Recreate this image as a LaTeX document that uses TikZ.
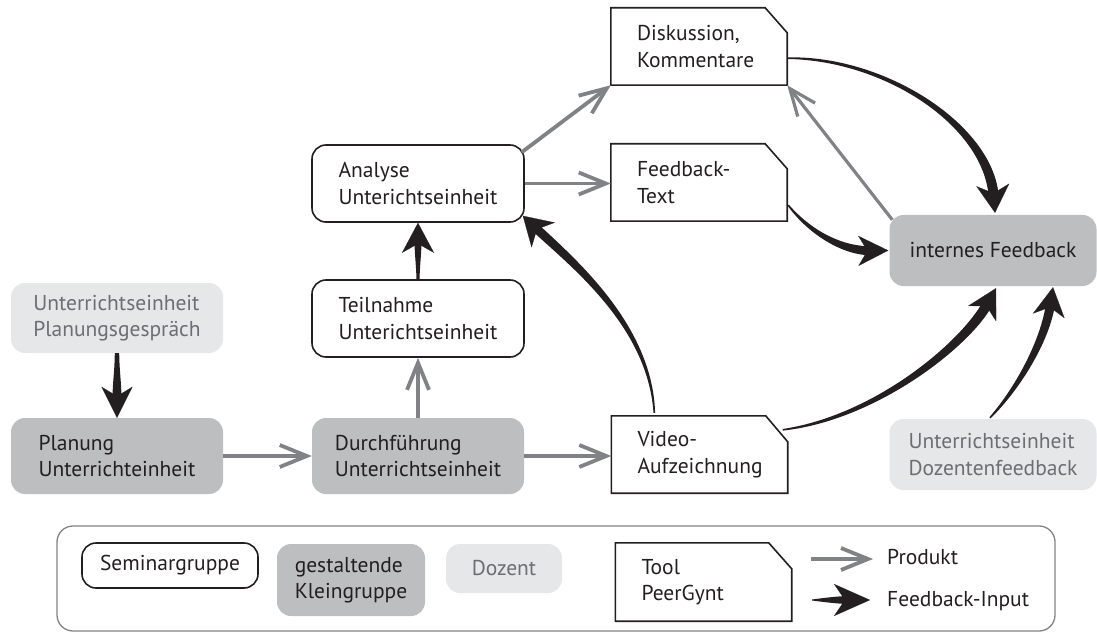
\documentclass[tikz,border=0pt]{standalone}
\usepackage{fontspec}
\setmainfont{PT Sans}
\usetikzlibrary{arrows.meta,calc}

\definecolor{groupfill}{HTML}{BCBEC0}
\definecolor{tutorfill}{HTML}{E6E7E8}
\definecolor{tutortext}{HTML}{6D6E71}
\definecolor{productgray}{HTML}{808285}
\definecolor{ink}{HTML}{231F20}

\tikzset{
  lbl/.style={font=\fontsize{21.5}{26.5}\selectfont, text=ink},
  roundbox/.style={lbl, rounded corners=14pt, minimum width=212pt, minimum height=77pt,
                   align=left, inner sep=0pt},
  seminarbox/.style={roundbox, draw=ink, line width=1.6pt, fill=white},
  groupbox/.style={roundbox, fill=groupfill},
  tutorbox/.style={roundbox, fill=tutorfill, text=tutortext},
  toolbox/.style={lbl, minimum height=77pt, text width=124pt, inner xsep=26pt,
                  inner ysep=0pt, align=left},
  product/.style={draw=productgray, line width=3.8pt,
                  -{Straight Barb[length=27pt,width=22pt]}},
}

% outline of a document-like box with a clipped upper right corner
\newcommand\toolframe[3]{% node, cut width, cut height
  \draw[ink, line width=1.6pt, line join=miter]
    (#1.south west) -- (#1.north west) -- ($(#1.north east)+(-#2,0)$)
    -- ($(#1.north east)+(0,#3)$) -- (#1.south east) -- cycle;}

% tapered black arrow: start, control 1, control 2, tip,
% half width at start, half width at head, head length, head width
\newcommand\feedbackarrow[8]{%
  \coordinate (fbS) at (#1);
  \coordinate (fbP) at (#2);
  \coordinate (fbQ) at (#3);
  \coordinate (fbT) at (#4);
  \pgfmathsetlengthmacro\fbback{0.6*#7}%
  \pgfmathsetlengthmacro\fbinset{0.3*#7}%
  \pgfmathsetlengthmacro\fbmid{0.55*#6}%
  \coordinate (fbE) at ($(fbT)!\fbback!(fbQ)$);
  \fill[ink] ($(fbS)!#5!-90:(fbP)$) .. controls ($(fbP)!\fbmid!90:(fbS)$) and ($(fbQ)!#6!-90:(fbE)$)
      .. ($(fbE)!#6!90:(fbQ)$) -- ($(fbE)!#6!-90:(fbQ)$)
      .. controls ($(fbQ)!#6!90:(fbE)$) and ($(fbP)!\fbmid!-90:(fbS)$) .. ($(fbS)!#5!90:(fbP)$) -- cycle;
  \draw[ink, line width=0.2pt, -{Stealth[length=#7pt, width=#8pt, inset=\fbinset]}]
      ($(fbT)!2pt!(fbQ)$) -- (fbT);
}

\begin{document}
\begin{tikzpicture}[x=1pt, y=-1pt]
\useasboundingbox (0,0) rectangle (1097,636);

% --- main flow ---
\node[tutorbox, minimum height=70pt] (talk) at (117,318) {Unterrichtseinheit\\Planungsgespräch};
\node[groupbox, minimum height=76pt] (plan) at (117,456) {Planung\\Unterrichteinheit};
\node[groupbox, minimum height=76pt] (run) at (418,456) {Durchführung\\Unterrichtseinheit};
\node[seminarbox] (attend) at (418,318.5) {Teilnahme\\Unterichtseinheit};
\node[seminarbox] (analyse) at (418,183.5) {Analyse\\Unterichtseinheit};

\node[toolbox] (disc) at (699,46.5) {Diskussion,\\Kommentare};
\node[toolbox] (ftext) at (699,182.5) {Feedback-\\Text};
\node[toolbox] (video) at (699.5,454.5) {Video-\\Aufzeichnung};
\toolframe{disc}{22}{25}
\toolframe{ftext}{22}{25}
\toolframe{video}{22}{26}

\node[groupbox, minimum width=207pt, minimum height=71pt, align=center] (internal) at (993,250.5) {internes Feedback};
\node[tutorbox, minimum width=207pt, minimum height=71pt] (tutorfb) at (993,454.5) {Unterrichtseinheit\\Dozentenfeedback};

% --- products ---
\draw[product] (plan.east) -- (run.west);
\draw[product] (run.east) -- (run.east -| video.west);
\draw[product] (run.north) -- (attend.south);
\draw[product] (analyse.east) -- (analyse.east -| ftext.west);
\draw[product] ($(analyse.north east)+(-3,8)$) -- (disc.south west);
\draw[product, line width=3.2pt] ($(internal.north west)+(3,5)$) -- (disc.south east);

% --- feedback input ---
\feedbackarrow{talk.south}{$(talk.south)+(0,20)$}{$(plan.north)+(0,-35)$}{plan.north}{2.2pt}{4.5pt}{31}{31}
\feedbackarrow{attend.north}{$(attend.north)+(0,-15)$}{$(analyse.south)+(0,30)$}{analyse.south}{1.5pt}{3.5pt}{30}{32}
\feedbackarrow{$(video.north west)+(43,-3)$}{650,325}{572,262}{$(analyse.south east)+(-2,-7)$}{0.8pt}{4.5pt}{28}{34}
\feedbackarrow{$(disc.south east)+(1,-27)$}{885,58}{988,125}{$(internal.north)+(2,-2)$}{0.8pt}{5pt}{28}{33}
\feedbackarrow{$(ftext.south east)+(1,-16)$}{812,235}{845,251}{$(internal.west)+(-1,0)$}{0.8pt}{4.5pt}{30}{30}
\feedbackarrow{$(video.north east)+(-5,14)$}{875,418}{965,345}{$(internal.south)+(3,2)$}{0.8pt}{5pt}{29}{32}
\feedbackarrow{$(tutorfb.north)+(-3,-1)$}{1018,388}{1045,341}{$(internal.south)+(60,1)$}{0.8pt}{4.5pt}{29}{32}

% --- legend ---
\node[draw=productgray, line width=1.3pt, rounded corners=16pt, minimum width=998pt,
      minimum height=105pt, inner sep=0pt] (legend) at (556,578.5) {};
\node[seminarbox, minimum width=176pt, minimum height=45pt] (lsem) at (170,565.5) {Seminargruppe};
\node[groupbox, minimum width=148pt, minimum height=72pt] (lgroup) at (351,580) {gestaltende\\Kleingruppe};
\node[tutorbox, minimum width=116pt, minimum height=49pt] (ltutor) at (504,568.5) {Dozent};
\node[toolbox, minimum height=78pt] (ltool) at (703.5,582) {Tool\\PeerGynt};
\toolframe{ltool}{23}{26}

\node[lbl, anchor=west, inner sep=0pt] (lprod) at (887,557) {Produkt};
\node[lbl, anchor=west, inner sep=0pt] (lfb) at (887,601) {Feedback-Input};
\coordinate (lprodstart) at (811,559);
\coordinate (lfbstart) at (812,600);
\draw[product, shorten >=14pt] (lprodstart) -- (lprodstart -| lprod.west);
\feedbackarrow{lfbstart}{825,600}{840,600}{$(lfbstart -| lfb.west)+(-17,0)$}{0.5pt}{4pt}{36}{32}
\end{tikzpicture}
\end{document}
